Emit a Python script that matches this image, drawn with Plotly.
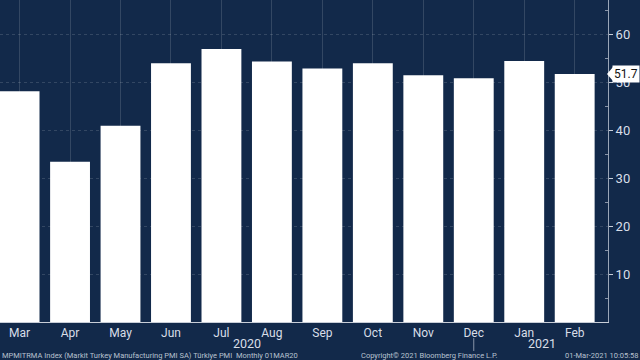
import plotly.graph_objects as go

months = ["Mar", "Apr", "May", "Jun", "Jul", "Aug", "Sep", "Oct", "Nov", "Dec", "Jan", "Feb"]
pmi = [48.1, 33.4, 40.9, 53.9, 56.9, 54.3, 52.8, 53.9, 51.4, 50.8, 54.4, 51.7]
year_labels = ["2020", "2021"]
year_centers = [4.5, 10.35]
y_ticks = [10, 20, 30, 40, 50, 60]
last_value = pmi[-1]

BG = "#12294a"
TXT = "#d8dee8"
x_idx = list(range(len(months)))

fig = go.Figure()
fig.add_trace(go.Bar(x=x_idx, y=pmi, width=0.79, marker=dict(color="white", line=dict(width=0)),
                     showlegend=False, hoverinfo="skip"))

fig.update_layout(
    width=640, height=360,
    margin=dict(l=0, r=32, t=0, b=38, autoexpand=False),
    paper_bgcolor=BG, plot_bgcolor=BG,
    font=dict(family="Roboto", color=TXT, size=12),
)
fig.update_xaxes(
    range=[-0.388, 11.66], tickvals=x_idx, ticktext=months, automargin=False,
    showgrid=True, gridcolor="rgba(255,255,255,0.14)", gridwidth=1,
    showline=True, linecolor="#c8ced8", linewidth=1,
    ticks="", ticklen=0, ticklabelstandoff=0, tickfont=dict(size=12, color=TXT), zeroline=False,
)
fig.update_yaxes(
    range=[0, 67.1], side="right", tickvals=y_ticks, automargin=False,
    showgrid=True, gridcolor="rgba(255,255,255,0.14)", gridwidth=1, griddash="dot",
    showline=True, linecolor="#9aa6b8", linewidth=1,
    ticks="outside", ticklen=4, tickcolor="#c8ced8",
    minor=dict(tickvals=[5, 15, 25, 35, 45, 55, 65], ticks="inside", ticklen=3, tickcolor="#8894a8"),
    tickfont=dict(size=13, color=TXT), zeroline=False,
)

# year labels
for lbl, xc in zip(year_labels, year_centers):
    fig.add_annotation(x=xc, xref="x", y=-0.068, yref="paper", text=lbl, showarrow=False,
                       font=dict(size=12.5, color=TXT), yanchor="middle")
# year separator
fig.add_shape(type="line", x0=9, x1=9, xref="x", y0=-0.05, y1=-0.09, yref="paper",
              line=dict(color="#8894a8", width=1))

# last value label
fig.add_annotation(x=1, xref="paper", y=last_value, yref="y", text=f"{last_value}", showarrow=False,
                   xanchor="left", xshift=4, bgcolor="white", font=dict(size=12, color="#111111"),
                   borderpad=1)
dy = 67.1 / 322
fig.add_shape(type="path", xref="paper", yref="y",
              path=f"M {1 - 1/608} {last_value} L {1 + 5/608} {last_value + 7*dy} L {1 + 5/608} {last_value - 7*dy} Z",
              fillcolor="white", line=dict(width=0))

# footer
fig.add_annotation(x=0, xref="paper", y=-0.104, yref="paper", xanchor="left", yanchor="middle",
                   text="MPMITRMA Index (Markit Turkey Manufacturing PMI SA) Türkiye PMI  Monthly 01MAR20",
                   showarrow=False, font=dict(size=7.5, color="#b8c2d0"))
fig.add_annotation(x=429 / 608, xref="paper", y=-0.104, yref="paper", xanchor="center", yanchor="middle",
                   text="Copyright© 2021 Bloomberg Finance L.P.",
                   showarrow=False, font=dict(size=7.5, color="#b8c2d0"))
fig.add_annotation(x=640 / 608, xref="paper", y=-0.104, yref="paper", xanchor="right", yanchor="middle",
                   text="01-Mar-2021 10:05:58",
                   showarrow=False, font=dict(size=7.5, color="#b8c2d0"))

fig.write_html("out.html", config={"displayModeBar": False},
               post_script="document.body.style.margin='0';document.body.style.overflow='hidden';")
